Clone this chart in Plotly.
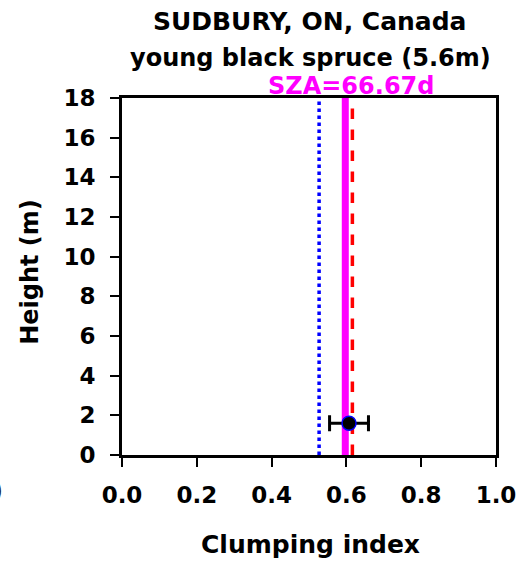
import plotly.graph_objects as go

# Data
height_range = [0, 18]
line_blue_dotted = 0.527
line_magenta = 0.597
line_red_dashed = 0.616
meas_ci = [0.607]
meas_h = [1.6]
meas_err = [0.052]
x_ticks = [0.0, 0.2, 0.4, 0.6, 0.8, 1.0]
y_ticks = [0, 2, 4, 6, 8, 10, 12, 14, 16, 18]

fig = go.Figure()
fig.add_trace(go.Scatter(x=[line_blue_dotted]*2, y=height_range, mode="lines",
                         line=dict(color="#0000ff", width=3.5, dash="dot"), showlegend=False))
fig.add_trace(go.Scatter(x=[line_magenta]*2, y=height_range, mode="lines",
                         line=dict(color="#ff00ff", width=7), showlegend=False))
fig.add_trace(go.Scatter(x=[line_red_dashed]*2, y=height_range, mode="lines",
                         line=dict(color="#ff0000", width=3.5, dash="dash"), showlegend=False))
fig.add_trace(go.Scatter(x=meas_ci, y=meas_h, mode="markers",
                         marker=dict(color="black", size=14, line=dict(color="#0000ff", width=1.5)),
                         error_x=dict(type="data", array=meas_err, color="black", thickness=3, width=8),
                         showlegend=False))

font = "DejaVu Sans, Verdana, sans-serif"
fig.update_layout(
    width=523, height=565,
    margin=dict(l=122, r=27, t=98, b=110, autoexpand=False),
    plot_bgcolor="white", paper_bgcolor="white",
    font=dict(family=font, size=24, color="black"),
    annotations=[
        dict(text="<b>SUDBURY, ON, Canada</b>", x=0.503, y=1.213, xref="paper", yref="paper",
             xanchor="center", yanchor="middle", showarrow=False, font=dict(size=25)),
        dict(text="<b>young black spruce (5.6m)</b>", x=0.503, y=1.112, xref="paper", yref="paper",
             xanchor="center", yanchor="middle", showarrow=False, font=dict(size=24)),
        dict(text="<b>SZA=66.67d</b>", x=0.612, y=1.033, xref="paper", yref="paper",
             xanchor="center", yanchor="middle", showarrow=False, font=dict(size=24, color="#ff00ff")),
        dict(text="<b>Clumping index</b>", x=0.503, y=-0.252, xref="paper", yref="paper",
             xanchor="center", yanchor="middle", showarrow=False, font=dict(size=25)),
        dict(text="<b>Height (m)</b>", x=-0.246, y=0.513, xref="paper", yref="paper", textangle=-90,
             xanchor="center", yanchor="middle", showarrow=False, font=dict(size=24)),
        dict(text="<b>)</b>", x=-0.313, y=-0.1, xref="paper", yref="paper",
             xanchor="right", yanchor="middle", showarrow=False, font=dict(size=24, color="#222222")),
    ],
)
fig.update_xaxes(range=[0, 1], tickvals=x_ticks, ticktext=[f"<b>{v:.1f}</b>" for v in x_ticks],
                 ticks="outside", ticklen=9, tickwidth=2, tickcolor="black", ticklabelstandoff=8,
                 showline=True, linecolor="black", linewidth=3, mirror=True, showgrid=False, zeroline=False,
                 tickfont=dict(size=23), automargin=False)
fig.update_yaxes(range=[0, 18], tickvals=y_ticks, ticktext=[f"<b>{v}</b>" for v in y_ticks],
                 ticks="outside", ticklen=9, tickwidth=2, tickcolor="black", ticklabelstandoff=10,
                 showline=True, linecolor="black", linewidth=3, mirror=True, showgrid=False, zeroline=False,
                 tickfont=dict(size=23), automargin=False)
fig.write_html("out.html")
